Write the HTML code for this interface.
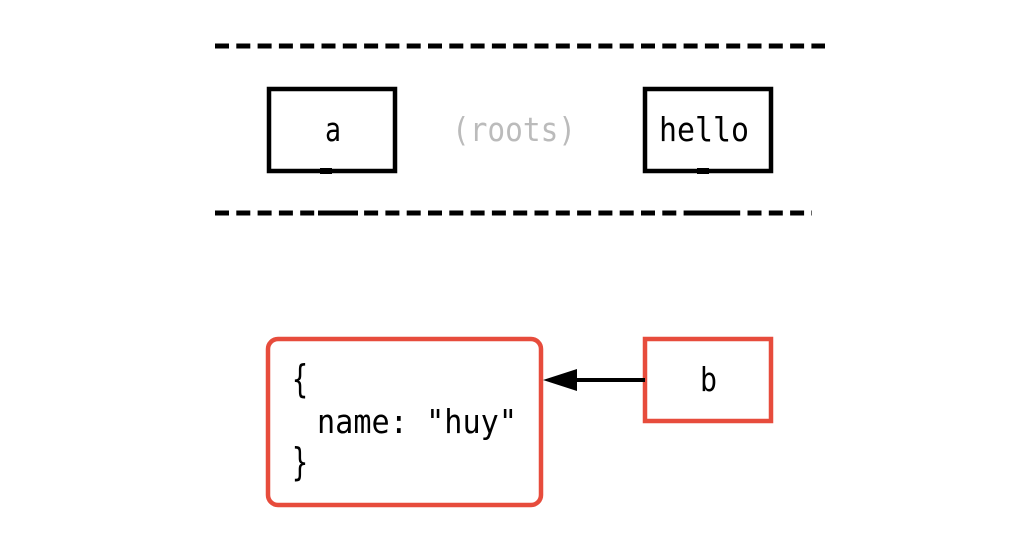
<!DOCTYPE html>
<html><head><style>
html,body{margin:0;padding:0;background:#fff;}
svg text{font-family:"DejaVu Sans Mono","Liberation Mono",monospace;}
</style></head><body>
<svg width="1018" height="550" viewBox="0 0 1018 550" xmlns="http://www.w3.org/2000/svg">
<line x1="215" y1="46" x2="825" y2="46" stroke="#000" stroke-width="5" stroke-dasharray="14 7.3"/>
<line x1="215" y1="213" x2="812" y2="213" stroke="#000" stroke-width="5" stroke-dasharray="14 7.3"/>
<line x1="318" y1="213" x2="358" y2="213" stroke="#000" stroke-width="5"/>
<line x1="684" y1="213" x2="728" y2="213" stroke="#000" stroke-width="5"/>
<rect x="269" y="89" width="126" height="82" fill="#fff" stroke="#000" stroke-width="4.5"/>
<rect x="645" y="89" width="126" height="82" fill="#fff" stroke="#000" stroke-width="4.5"/>
<line x1="320" y1="171" x2="332" y2="171" stroke="#000" stroke-width="6"/>
<line x1="697" y1="171" x2="709" y2="171" stroke="#000" stroke-width="6"/>
<text x="333" y="141" font-size="33" text-anchor="middle" fill="#000" textLength="16" lengthAdjust="spacingAndGlyphs">a</text>
<text x="452" y="141" font-size="33" fill="#bbb" textLength="124" lengthAdjust="spacingAndGlyphs">(roots)</text>
<text x="659" y="141" font-size="33" fill="#000" textLength="90" lengthAdjust="spacingAndGlyphs">hello</text>
<rect x="268" y="339" width="273" height="166" rx="10" fill="#fff" stroke="#e74c3c" stroke-width="4.5"/>
<rect x="645" y="339" width="126" height="82" fill="#fff" stroke="#e74c3c" stroke-width="4.5"/>
<line x1="645" y1="380" x2="575" y2="380" stroke="#000" stroke-width="4"/>
<polygon points="543,380 577,369 577,391" fill="#000"/>
<text x="700" y="391" font-size="33" fill="#000" textLength="17" lengthAdjust="spacingAndGlyphs">b</text>
<text x="292" y="392" font-size="38" fill="#000" textLength="16" lengthAdjust="spacingAndGlyphs">{</text>
<text x="317" y="433" font-size="33" fill="#000" textLength="200" lengthAdjust="spacingAndGlyphs">name: "huy"</text>
<text x="292" y="475" font-size="38" fill="#000" textLength="16" lengthAdjust="spacingAndGlyphs">}</text>
</svg>
</body></html>
